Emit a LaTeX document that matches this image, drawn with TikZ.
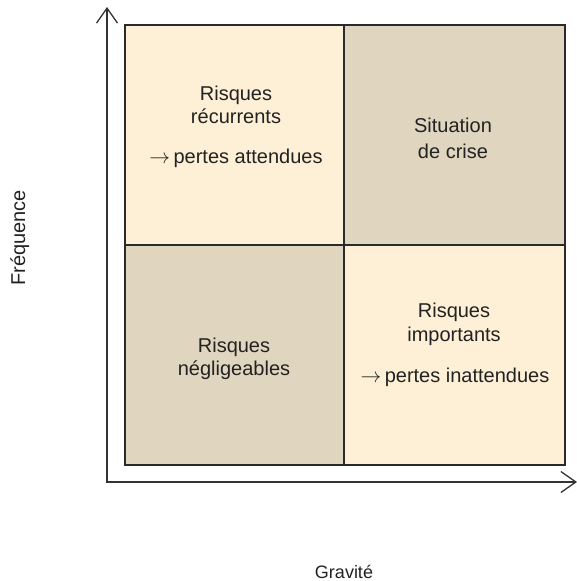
\documentclass[tikz,border=0pt]{standalone}
\usepackage{fontspec}
\setmainfont{Liberation Sans}
\usetikzlibrary{arrows.meta}
\definecolor{lightq}{HTML}{FEF0D6}
\definecolor{darkq}{HTML}{E0D5BF}
\definecolor{framec}{HTML}{2A2A2A}
\definecolor{txt}{HTML}{222222}
\begin{document}
\begin{tikzpicture}[x=1pt,y=-1pt,
  quad/.style={draw=framec,line width=1.6pt},
  lbl/.style={anchor=base,inner sep=0pt,font=\fontsize{20}{24}\selectfont,text=txt},
  axis/.style={line width=1.3pt,draw=black!80,-{Straight Barb[length=15pt,width=21pt,line width=1.3pt]}}]
\useasboundingbox (0,0) rectangle (577,581);
\fill[lightq] (125,25) rectangle (344,245);
\fill[darkq] (344,25) rectangle (565,245);
\fill[darkq] (125,245) rectangle (344,465);
\fill[lightq] (344,245) rectangle (565,465);
\draw[quad] (125,25) rectangle (565,465);
\draw[quad] (344,25) -- (344,465);
\draw[quad] (125,245) -- (565,245);
\coordinate (yorig) at (107,483);
\coordinate (xorig) at (106.35,482);
\coordinate (ytop) at (107,7);
\coordinate (xend) at (577,482);
\draw[axis] (yorig) -- (ytop);
\draw[axis] (xorig) -- (xend);
\node[lbl] (rr1) at (236,100) {Risques};
\node[lbl] (rr2) at (236,123) {récurrents};
\node[lbl] (pa) at (236,163) {$\rightarrow$\,pertes attendues};
\node[lbl] (sc1) at (453,132) {Situation};
\node[lbl] (sc2) at (453,158) {de crise};
\node[lbl] (rn1) at (234,352) {Risques};
\node[lbl] (rn2) at (234,375) {négligeables};
\node[lbl] (ri1) at (454,317) {Risques};
\node[lbl] (ri2) at (454,341) {importants};
\node[lbl] (pi) at (455,382) {$\rightarrow$\,pertes inattendues};
\node[lbl,rotate=90] (fr) at (25,238) {Fréquence};
\node[lbl,font=\fontsize{18}{22}\selectfont] (gr) at (344,578) {Gravité};
\end{tikzpicture}
\end{document}
